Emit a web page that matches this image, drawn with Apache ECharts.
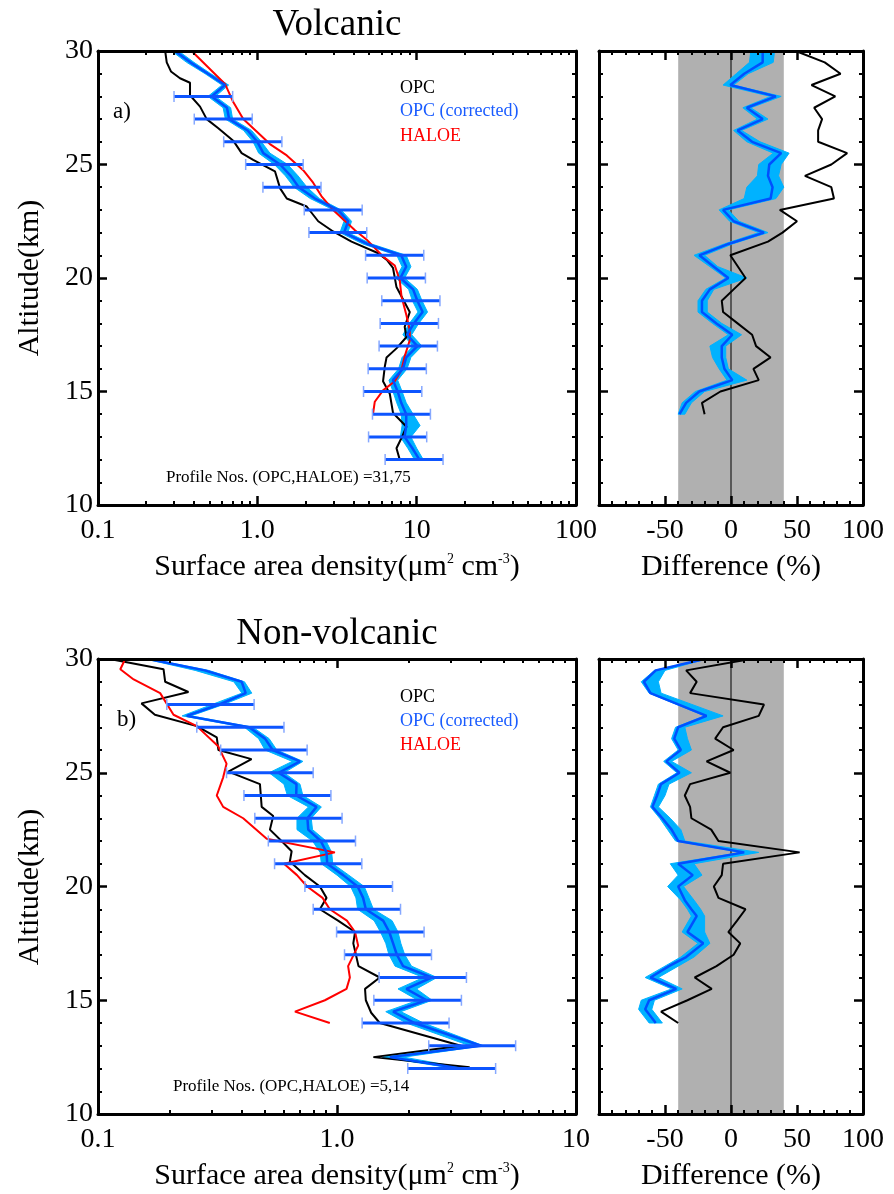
<!DOCTYPE html>
<html><head><meta charset="utf-8">
<script src="https://cdn.jsdelivr.net/npm/echarts@6.0.0/dist/echarts.min.js"></script>
<style>html,body{margin:0;padding:0;background:#fff}#c{width:894px;height:1194px}</style>
</head><body><div id="c"></div>
<script>
// ---------------- DATA (altitude km first) ----------------
const volcXTicks = [0.1, 1, 10, 100];
const volcXLabels = ['0.1', '1.0', '10', '100'];
const nonvXTicks = [0.1, 1, 10];
const nonvXLabels = ['0.1', '1.0', '10'];
const altTicks = [10, 15, 20, 25, 30];
const altLabels = ['10', '15', '20', '25', '30'];
const diffTicks = [-50, 0, 50, 100];
const diffLabels = ['-50', '0', '50', '100'];
const agreeBand = [[-40, 40]];          // grey +-40 % band
const ALT_MIN = 10, ALT_MAX = 30;
const zeroLine = [[10, 0], [30, 0]];

// Volcanic: [alt, surface area density]
const volcOPC = [[30.0,0.264],[29.5,0.270],[29.1,0.287],[28.8,0.327],[28.6,0.378],[28.05,0.378],[27.55,0.437],[27.0,0.481],[26.6,0.569],[26.05,0.706],[25.5,0.797],[25.2,0.942],[24.7,1.29],[23.95,1.39],[23.5,1.53],[23.15,2.04],[22.5,2.41],[22.05,2.99],[21.6,3.9],[21.1,5.7],[20.8,6.5],[20.45,7.1],[19.6,7.47],[18.5,9.05],[17.85,8.41],[17.4,8.63],[16.9,7.47],[16.5,6.47],[16.1,6.31],[15.45,6.15],[14.9,6.78],[14.05,7.11],[13.45,8.63],[12.95,8.03],[12.5,7.47],[12.0,7.83]];
const volcHALOE = [[30.0,0.387],[28.55,0.627],[27.75,0.706],[27.0,0.816],[26.45,0.99],[25.9,1.2],[25.4,1.53],[24.75,1.94],[24.2,2.24],[23.6,2.53],[23.0,2.99],[22.1,4.1],[21.7,4.84],[20.95,6.15],[20.55,7.29],[19.9,7.83],[19.2,8.03],[18.35,8.63],[17.7,9.05],[17.25,9.05],[16.55,8.41],[15.95,8.03],[15.45,7.29],[15.05,6.15],[14.55,5.46],[14.05,5.33]];
const volcCorr = [[30,0.304],[29.5,0.38],[29,0.49],[28.5,0.627],[28,0.517],[27.5,0.645],[27,0.665],[26.5,0.87],[26,1.0],[25.5,1.09],[25,1.39],[24.5,1.62],[24,1.82],[23.5,2.3],[23,3.2],[22.5,3.72],[22,3.5],[21.5,4.9],[21,8.0],[20.5,8.6],[20,7.9],[19.5,9.5],[19,10.1],[18.5,10.9],[18,9.6],[17.5,8.7],[17,10.1],[16.5,8.6],[16,8.2],[15.5,7.1],[15,7.6],[14.5,8.0],[14,8.6],[13.5,8.6],[13,8.4],[12.5,9.4],[12,10.4]];
// [alt, low, high]
const volcCorrBand = [[30,0.29,0.32],[29.5,0.36,0.40],[29,0.47,0.51],[28.5,0.60,0.66],[28,0.49,0.545],[27.5,0.61,0.68],[27,0.63,0.70],[26.5,0.82,0.92],[26,0.94,1.06],[25.5,1.02,1.2],[25,1.28,1.55],[24.5,1.5,1.8],[24,1.7,2.05],[23.5,2.15,2.45],[23,3.0,3.35],[22.5,3.5,3.9],[22,3.3,3.7],[21.5,4.6,5.2],[21,7.5,8.6],[20.5,8.1,9.2],[20,7.4,8.4],[19.5,8.9,10.1],[19,9.4,10.8],[18.5,10.2,11.7],[18,9.0,10.3],[17.5,8.2,9.3],[17,9.5,10.8],[16.5,8.1,9.2],[16,7.7,8.7],[15.5,6.7,7.6],[15,7.1,8.1],[14.5,7.5,8.6],[14,8.0,9.5],[13.5,8.1,10.5],[13,7.9,9.2],[12.5,8.8,10.0],[12,9.7,11.0]];
const volcErr = [[28,0.300,0.700],[27,0.402,0.929],[26,0.615,1.426],[25,0.845,1.94],[24,1.084,2.51],[23,1.97,4.55],[22,2.107,4.86],[21,4.78,11.08],[20,4.89,11.35],[19,6.04,14.0],[18,5.9,13.7],[17,5.81,13.5],[16,4.96,11.5],[15,4.64,10.77],[14,5.28,12.2],[13,4.99,11.56],[12,6.34,14.64]];
// Volcanic differences [alt, %]
const volcDiffOPC = [[30,49],[29.5,71],[29,83],[28.5,61],[28,79],[27.5,63],[27,69],[26.5,66],[26,66],[25.5,88],[25,76],[24.5,56],[24,76],[23.5,78],[23,37],[22.5,50],[22,39],[21.6,28],[21,-0.5],[20,11],[19.5,2],[19,-7],[18.5,-6],[18,5],[17.5,16],[17,19],[16.5,30],[16,17],[15.5,21],[15,-8],[14.5,-22],[14,-20]];
const volcDiffCorr = [[30,24],[29.5,24],[29,10],[28.5,-0.5],[28,34],[27.5,12],[27,24],[26.5,5],[26,16],[25.5,38],[25,29],[24.5,28],[24,31.5],[23.5,30],[23,-6],[22.5,2],[22,25],[21.5,-2],[21,-24],[20.5,-13],[20,-2],[19.5,-16],[19,-22],[18.5,-22],[18,-11],[17.5,1],[17,-7],[16.5,-7],[16,-5],[15.5,1],[15,-24],[14.5,-34],[14,-39]];
const volcDiffBand = [[30,15,33],[29.5,14,32],[29,4,13],[28.5,-6,2],[28,30,38],[27.5,9,15],[27,20,28],[26.5,2,8],[26,12,22],[25.5,32,44],[25,21,38],[24.5,20,36],[24,12,40],[23.5,10,34],[23,-9,-2],[22.5,-1,6],[22,21,28],[21.5,-5,1],[21,-28,-20],[20.5,-16,-10],[20,-4,12],[19.5,-19,-13],[19,-25,-18],[18.5,-25,-18],[18,-14,-7],[17.5,-2,8],[17,-16,-4],[16.5,-14,-4],[16,-9,-2],[15.5,-3,12],[15,-27,-20],[14.5,-37,-30],[14,-40,-35]];

// Non-volcanic
const nonvOPC = [[30,0.112],[29.55,0.188],[29.0,0.191],[28.55,0.239],[28.05,0.152],[27.55,0.173],[27.05,0.259],[26.55,0.314],[26.0,0.319],[25.6,0.439],[25.05,0.351],[24.5,0.476],[23.5,0.484],[23.1,0.541],[22.5,0.524],[22.0,0.586],[21.55,0.646],[21.1,0.635],[20.5,0.734],[20.0,0.848],[19.5,0.904],[19.0,0.848],[18.5,1.01],[18.0,1.19],[17.5,1.17],[17.0,1.2],[16.5,1.23],[16.0,1.51],[15.5,1.31],[15.0,1.32],[14.45,1.39],[14.0,1.51],[13.0,3.3],[12.5,1.42],[12.05,3.59]];
const nonvHALOE = [[30,0.13],[29.55,0.124],[29.1,0.141],[28.5,0.182],[27.55,0.207],[27.05,0.259],[26.15,0.319],[25.4,0.345],[24.8,0.334],[24.0,0.314],[23.5,0.334],[23.0,0.405],[22.1,0.508],[21.5,0.98],[21.0,0.6],[20.5,0.68],[20.0,0.75],[19.5,0.87],[19.0,0.933],[18.5,1.1],[18.0,1.19],[17.4,1.226],[16.5,1.113],[16.0,1.132],[15.5,1.096],[15.0,0.89],[14.5,0.667],[14.0,0.933]];
const nonvCorr = [[30,0.1625],[29.5,0.28],[29,0.399],[28.5,0.415],[28,0.322],[27.5,0.235],[27,0.429],[26.5,0.50],[26,0.538],[25.5,0.70],[25,0.57],[24.5,0.677],[24,0.675],[23.5,0.821],[23,0.752],[22.5,0.758],[22,0.855],[21.5,0.904],[21,0.91],[20.5,1.061],[20,1.22],[19.5,1.286],[19,1.32],[18.5,1.56],[18,1.655],[17.5,1.717],[17,1.78],[16.5,1.89],[16,2.49],[15.5,1.95],[15,2.37],[14.5,1.717],[14,2.11],[13,4.0],[12.5,1.663],[12,3.29]];
const nonvCorrBand = [[30,0.158,0.167],[29.5,0.255,0.29],[29,0.37,0.41],[28.5,0.40,0.44],[28,0.30,0.335],[27.5,0.225,0.245],[27,0.41,0.445],[26.5,0.47,0.52],[26,0.5,0.56],[25.5,0.65,0.72],[25,0.52,0.6],[24.5,0.6,0.7],[24,0.62,0.72],[23.5,0.76,0.86],[23,0.68,0.78],[22.5,0.68,0.79],[22,0.79,0.9],[21.5,0.85,0.95],[21,0.86,0.96],[20.5,1.0,1.12],[20,1.14,1.3],[19.5,1.2,1.36],[19,1.22,1.42],[18.5,1.43,1.7],[18,1.52,1.8],[17.5,1.6,1.85],[17,1.65,1.92],[16.5,1.75,2.05],[16,2.3,2.62],[15.5,1.8,2.15],[15,2.18,2.5],[14.5,1.6,1.85],[14,1.95,2.3],[13,3.6,4.1],[12.5,1.55,1.9],[12,3.1,3.5]];
const nonvErr = [[28,0.194,0.450],[27,0.259,0.600],[26,0.326,0.750],[25,0.345,0.795],[24,0.408,0.943],[23,0.453,1.05],[22,0.516,1.195],[21,0.548,1.27],[20,0.734,1.707],[19,0.795,1.844],[18,0.996,2.314],[17,1.075,2.485],[16,1.5,3.48],[15,1.426,3.316],[14,1.274,2.943],[13,2.42,5.59],[12,1.977,4.61]];
const nonvDiffOPC = [[30,15],[29.5,-34],[29,-26],[28.5,-31],[28,25],[27.5,21],[27,-6],[26.5,-12],[26,2],[25.5,-18.5],[25,-0.5],[24.5,-31],[24,-35],[23.5,-31],[23,-30],[22.5,-15],[22,-9.5],[21.5,52],[21,-6],[20.5,-7],[20,-13],[19.5,-9.5],[19,11],[18.5,4.6],[18,-2],[17.5,7],[17,2],[16.5,-11],[16,-27.5],[15.5,-14.6],[15,-33],[14.5,-53],[14,-40]];
const nonvDiffCorr = [[30,-20],[29.5,-57],[29,-66],[28.5,-61],[27.5,-18.5],[27,-40],[26.5,-43],[26,-38],[25.5,-49],[25,-39],[24.5,-53],[24,-56],[23.5,-59.5],[23,-52],[22.5,-45],[22,-40],[21.5,10],[21,-40],[20.5,-29],[20,-40],[19.4,-35],[19,-30],[18.7,-26],[18,-33],[17.5,-21],[16.9,-34],[16.5,-47],[16,-61],[15.5,-41.5],[15,-62],[14.6,-65],[14,-57]];
const nonvDiffBand = [[30,-21,-19],[29.5,-58,-50],[29,-68,-55],[28.5,-62,-53],[27.5,-20,-6],[27,-42,-35],[26.5,-45,-33],[26,-40,-30],[25.5,-51,-45],[25,-41,-30],[24.5,-55,-47],[24,-58,-50],[23.5,-61,-55],[23,-54,-46],[22.5,-48,-38],[22,-42,-35],[21.5,8,21],[21,-46,-28],[20.5,-40,-22],[20,-48,-36],[19.4,-38,-28],[19,-33,-23],[18.7,-30,-20],[18,-37,-20],[17.5,-25,-16],[16.9,-38,-28],[16.5,-50,-40],[16,-65,-55],[15.5,-45,-37],[15,-68,-58],[14.6,-70,-60],[14,-62,-52]];

// ---------------- STYLE ----------------
const FONT = '"Liberation Serif","Times New Roman",serif';
const BLACK = '#000';
const RED = '#ff0000';
const BLUE = '#0050ff';
const CYAN = '#00b2ff';
const GREY = '#b0b0b0';

function logMinors(topExp) {
  const out = [];
  for (let e = -1; e < topExp; e++) for (let m = 2; m <= 9; m++) out.push(+(m * Math.pow(10, e)).toFixed(6));
  return out;
}
function pick(ticks, labels) {
  return v => { for (let i = 0; i < ticks.length; i++) { if (Math.abs(ticks[i] - v) <= Math.abs(ticks[i]) * 1e-6 + 1e-9) return labels[i]; } return ''; };
}
const axLine = {show: true, onZero: false, lineStyle: {color: BLACK, width: 3}};
const majTick = vals => Object.assign({show: true, inside: true, length: 9, lineStyle: {color: BLACK, width: 2.5}}, vals ? {customValues: vals} : {});
const minTickCustom = vals => ({show: true, inside: true, length: 4, customValues: vals, lineStyle: {color: BLACK, width: 2}});
const minorTickCfg = {show: true, splitNumber: 5, length: 4, lineStyle: {color: BLACK, width: 2}};
const labelStyle = {fontFamily: FONT, fontSize: 28, color: BLACK};

function logXAxes(gi, max, topExp, ticks, labels) {
  const minors = logMinors(topExp);
  const base = {type: 'log', logBase: 10, gridIndex: gi, min: 0.1, max: max, z: 10, splitLine: {show: false}};
  return [
    Object.assign({}, base, {position: 'bottom', axisLine: axLine, axisTick: majTick(ticks), axisLabel: Object.assign({}, labelStyle, {margin: 12, customValues: ticks, formatter: pick(ticks, labels)})}),
    Object.assign({}, base, {position: 'bottom', axisLine: {show: false}, axisTick: minTickCustom(minors), axisLabel: {show: false}}),
    Object.assign({}, base, {position: 'top', axisLine: axLine, axisTick: majTick(ticks), axisLabel: {show: false}}),
    Object.assign({}, base, {position: 'top', axisLine: {show: false}, axisTick: minTickCustom(minors), axisLabel: {show: false}})
  ];
}
function diffXAxes(gi) {
  const base = {type: 'value', gridIndex: gi, min: -100, max: 100, interval: 50, z: 10, splitLine: {show: false}, axisLine: axLine, axisTick: majTick(), minorTick: minorTickCfg};
  return [
    Object.assign({}, base, {position: 'bottom', axisLabel: Object.assign({}, labelStyle, {margin: 12, customValues: diffTicks, formatter: pick(diffTicks, diffLabels)})}),
    Object.assign({}, base, {position: 'top', axisLabel: {show: false}})
  ];
}
function yAxesFor(gi, withLabels) {
  const base = {type: 'value', gridIndex: gi, min: ALT_MIN, max: ALT_MAX, interval: 5, z: 10, splitLine: {show: false}, axisLine: axLine, axisTick: majTick(), minorTick: minorTickCfg};
  return [
    Object.assign({}, base, {position: 'left', axisLabel: withLabels ? Object.assign({}, labelStyle, {margin: 5, formatter: pick(altTicks, altLabels)}) : {show: false}}),
    Object.assign({}, base, {position: 'right', axisLabel: {show: false}})
  ];
}

function lineS(data, xi, yi, color, width, z) {
  return {type: 'line', xAxisIndex: xi, yAxisIndex: yi, data: data, encode: {x: 1, y: 0}, symbol: 'none', showSymbol: false,
    lineStyle: {color: color, width: width}, z: z, silent: true, animation: false};
}
function bandS(rows, xi, yi, color, z) {
  return {type: 'custom', xAxisIndex: xi, yAxisIndex: yi, z: z, silent: true, data: rows, encode: {x: [1, 2], y: 0},
    renderItem: (params, api) => {
      if (params.dataIndex !== 0) return null;
      const left = rows.map(r => api.coord([r[1], r[0]]));
      const right = rows.map(r => api.coord([r[2], r[0]])).reverse();
      return {type: 'polygon', shape: {points: left.concat(right)}, style: {fill: color, stroke: color, lineWidth: 1}};
    }};
}
function errS(rows, xi, yi, z) {
  return {type: 'custom', xAxisIndex: xi, yAxisIndex: yi, z: z, silent: true, data: rows, encode: {x: [1, 2], y: 0},
    renderItem: (params, api) => {
      const alt = api.value(0);
      const a = api.coord([api.value(1), alt]);
      const b = api.coord([api.value(2), alt]);
      return {type: 'group', children: [
        {type: 'line', shape: {x1: a[0], y1: a[1], x2: b[0], y2: b[1]}, style: {stroke: '#0d55ff', lineWidth: 3}},
        {type: 'line', shape: {x1: a[0], y1: a[1] - 5.5, x2: a[0], y2: a[1] + 5.5}, style: {stroke: '#86a8ff', lineWidth: 1.5}},
        {type: 'line', shape: {x1: b[0], y1: b[1] - 5.5, x2: b[0], y2: b[1] + 5.5}, style: {stroke: '#86a8ff', lineWidth: 1.5}}
      ]};
    }};
}
function agreeS(xi, yi, z) {
  return {type: 'custom', xAxisIndex: xi, yAxisIndex: yi, z: z, silent: true, data: agreeBand, encode: {x: [0, 1]},
    renderItem: (params, api) => {
      const a = api.coord([api.value(0), ALT_MAX]);
      const b = api.coord([api.value(1), ALT_MIN]);
      return {type: 'rect', shape: {x: a[0], y: a[1], width: b[0] - a[0], height: b[1] - a[1]}, style: {fill: GREY}};
    }};
}
function txt(text, x, y, size, o) {
  o = o || {};
  const el = {type: 'text', x: x, y: y, z: 100, silent: true,
    style: {text: text, fontFamily: FONT, fontSize: size, fill: o.color || BLACK, align: o.align || 'center', verticalAlign: 'middle'}};
  if (o.rotation) el.rotation = o.rotation;
  if (o.rich) el.style.rich = o.rich;
  return el;
}
const supRich = {s: {fontFamily: FONT, fontSize: 14, verticalAlign: 'top', fill: BLACK}};
const xName = 'Surface area density(μm{s|2} cm{s|-3})';

const option = {
  animation: false,
  backgroundColor: '#fff',
  grid: [
    {left: 98, top: 51, width: 478, height: 454},
    {left: 599, top: 51, width: 264, height: 454},
    {left: 98, top: 659, width: 478, height: 455},
    {left: 599, top: 659, width: 264, height: 455}
  ],
  xAxis: [].concat(logXAxes(0, 100, 2, volcXTicks, volcXLabels), diffXAxes(1), logXAxes(2, 10, 1, nonvXTicks, nonvXLabels), diffXAxes(3)),
  yAxis: [].concat(yAxesFor(0, true), yAxesFor(1, false), yAxesFor(2, true), yAxesFor(3, false)),
  series: [
    // panel a
    bandS(volcCorrBand, 0, 0, CYAN, 3),
    lineS(volcOPC, 0, 0, BLACK, 2, 4),
    lineS(volcHALOE, 0, 0, RED, 2, 4),
    lineS(volcCorr, 0, 0, BLUE, 2.5, 5),
    errS(volcErr, 0, 0, 6),
    // panel a diff
    agreeS(4, 2, 1),
    lineS(zeroLine, 4, 2, BLACK, 1, 2),
    bandS(volcDiffBand, 4, 2, CYAN, 3),
    lineS(volcDiffOPC, 4, 2, BLACK, 2, 4),
    lineS(volcDiffCorr, 4, 2, BLUE, 2.5, 5),
    // panel b
    bandS(nonvCorrBand, 6, 4, CYAN, 3),
    lineS(nonvOPC, 6, 4, BLACK, 2, 4),
    lineS(nonvHALOE, 6, 4, RED, 2, 4),
    lineS(nonvCorr, 6, 4, BLUE, 2.5, 5),
    errS(nonvErr, 6, 4, 6),
    // panel b diff
    agreeS(10, 6, 1),
    lineS(zeroLine, 10, 6, BLACK, 1, 2),
    bandS(nonvDiffBand, 10, 6, CYAN, 3),
    lineS(nonvDiffOPC, 10, 6, BLACK, 2, 4),
    lineS(nonvDiffCorr, 10, 6, BLUE, 2.5, 5)
  ],
  graphic: [
    txt('Volcanic', 337, 25, 37),
    txt('Non-volcanic', 337, 634, 37),
    txt('Altitude(km)', 30, 278, 30, {rotation: Math.PI / 2}),
    txt('Altitude(km)', 30, 887, 30, {rotation: Math.PI / 2}),
    txt(xName, 337, 567, 30, {rich: supRich}),
    txt(xName, 337, 1176, 30, {rich: supRich}),
    txt('Difference (%)', 731, 567, 30),
    txt('Difference (%)', 731, 1176, 30),
    txt('OPC', 400, 88, 18, {align: 'left'}),
    txt('OPC (corrected)', 400, 111, 18, {align: 'left', color: '#1a5cff'}),
    txt('HALOE', 400, 136, 18, {align: 'left', color: RED}),
    txt('OPC', 400, 697, 18, {align: 'left'}),
    txt('OPC (corrected)', 400, 721, 18, {align: 'left', color: '#1a5cff'}),
    txt('HALOE', 400, 745, 18, {align: 'left', color: RED}),
    txt('a)', 113, 112, 23, {align: 'left'}),
    txt('b)', 117, 720, 23, {align: 'left'}),
    txt('Profile Nos. (OPC,HALOE) =31,75', 166, 478, 17, {align: 'left'}),
    txt('Profile Nos. (OPC,HALOE) =5,14', 173, 1087, 17, {align: 'left'})
  ]
};
const chart = echarts.init(document.getElementById('c'), null, {renderer: 'canvas', width: 894, height: 1194});
chart.setOption(option);
</script></body></html>
